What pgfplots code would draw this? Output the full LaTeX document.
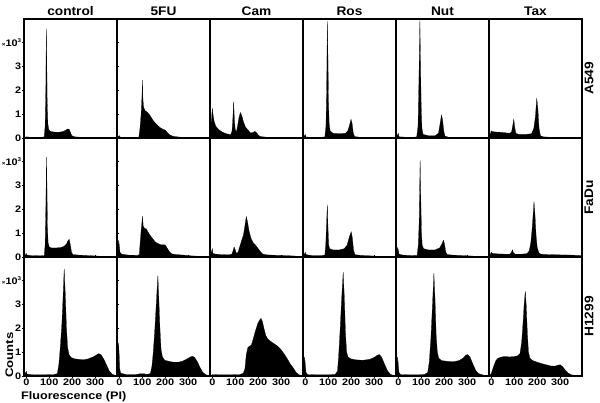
\documentclass[border=0pt]{standalone}
\usepackage{fontspec}
\setmainfont{Liberation Sans}
\newfontfamily\tickfont{Liberation Sans Bold}[FakeStretch=1.15]
\newfontfamily\labfont{Liberation Sans Bold}[FakeStretch=1.2]
\newfontfamily\titfont{Liberation Sans Bold}[FakeStretch=1.1]
\usepackage{pgfplots}
\pgfplotsset{compat=1.18}
\pgfplotsset{
  panel/.style={anchor=south west, scale only axis, width=93bp, height=119bp,
    xmin=-10, xmax=395, ymin=0, ymax=5, xtick=\empty, ytick=\empty,
    axis line style={line width=1.1bp}, clip=true,
    tick align=outside, major tick length=2bp,
    every tick/.style={line width=0.8bp, black},
    every tick label/.append style={font=\tickfont\fontsize{9.5}{10}\selectfont, inner sep=0.6bp}},
  leftcol/.style={ytick={0,1,2,3,4}, yticklabels={0,1,2,3,{{\fontsize{5.5}{6}\selectfont ×}10{\fontsize{5.5}{6}\selectfont\raisebox{3.8bp}{3}}}}},
  bottomrow/.style={xtick={0,100,200,300}, xticklabels={0,100,200,300}, xticklabel style={yshift=-0.5bp}},
  hist/.style={fill=black, draw=black, line width=0.2bp}
}
\begin{document}
\begin{tikzpicture}
\path[use as bounding box] (0,0) rectangle (600bp,403bp);
% ---------------- Row 1: A549 ----------------
\begin{axis}[panel, leftcol, at={(24bp,265bp)}]
\addplot[hist] coordinates {(-10,0)(0,0.05)(20,0.03)(60,0.02)(78,0.05)(82,0.5)(85,2)(87,4.6)(89,3.5)(91,1.5)(94,0.6)(98,0.35)(105,0.28)(120,0.25)(140,0.24)(160,0.27)(172,0.33)(180,0.38)(186,0.37)(192,0.25)(198,0.1)(210,0.05)(240,0.03)(280,0.02)(320,0.01)(395,0)} \closedcycle;
\end{axis}
\begin{axis}[panel, at={(117bp,265bp)}]
\addplot[hist] coordinates {(-10,0)(0,0.1)(5,0.03)(40,0.02)(85,0.03)(90,0.4)(95,1.0)(99,1.8)(101,2.44)(103,1.6)(106,1.3)(112,1.15)(120,1.1)(130,1.0)(140,0.85)(150,0.7)(160,0.6)(170,0.5)(180,0.42)(190,0.37)(200,0.33)(210,0.22)(220,0.13)(235,0.07)(260,0.04)(290,0.02)(330,0.01)(395,0)} \closedcycle;
\end{axis}
\begin{axis}[panel, at={(210bp,265bp)}]
\addplot[hist] coordinates {(-10,0)(0,1.25)(3,1.0)(8,0.7)(15,0.5)(25,0.38)(35,0.3)(50,0.22)(65,0.17)(80,0.14)(86,0.3)(90,0.9)(93,1.53)(96,0.8)(100,0.35)(105,0.25)(110,0.5)(116,0.85)(122,1.07)(128,0.95)(135,0.7)(145,0.45)(155,0.35)(165,0.22)(175,0.22)(185,0.28)(193,0.22)(200,0.12)(210,0.06)(230,0.04)(260,0.02)(300,0.01)(395,0)} \closedcycle;
\end{axis}
\begin{axis}[panel, at={(303bp,265bp)}]
\addplot[hist] coordinates {(-10,0)(0,0.15)(3,0.04)(40,0.03)(85,0.04)(90,0.5)(93,2)(96,4.9)(99,3.2)(101,1.5)(104,0.6)(108,0.3)(120,0.2)(150,0.18)(175,0.2)(185,0.3)(193,0.55)(199,0.79)(204,0.6)(209,0.2)(215,0.06)(240,0.03)(280,0.02)(320,0.01)(395,0)} \closedcycle;
\end{axis}
\begin{axis}[panel, at={(396bp,265bp)}]
\addplot[hist] coordinates {(-10,0)(0,0.2)(3,0.05)(40,0.03)(80,0.04)(86,0.5)(90,2.5)(94,4.95)(97,3)(100,1.2)(103,0.4)(108,0.15)(130,0.1)(160,0.1)(175,0.2)(182,0.6)(188,0.97)(193,0.75)(198,0.3)(203,0.08)(220,0.03)(260,0.02)(300,0.01)(395,0)} \closedcycle;
\end{axis}
\begin{axis}[panel, at={(489bp,265bp)}]
\addplot[hist] coordinates {(-10,0)(0,0.3)(5,0.27)(20,0.25)(40,0.24)(60,0.22)(80,0.2)(88,0.25)(93,0.5)(98,0.79)(102,0.45)(107,0.2)(120,0.15)(150,0.15)(175,0.18)(185,0.4)(192,0.9)(198,1.67)(203,1.2)(208,0.4)(214,0.1)(225,0.05)(260,0.03)(300,0.02)(340,0.01)(395,0)} \closedcycle;
\end{axis}
% ---------------- Row 2: FaDu ----------------
\begin{axis}[panel, leftcol, at={(24bp,146bp)}]
\addplot[hist] coordinates {(-10,0)(0,0.15)(3,0.08)(20,0.06)(60,0.05)(78,0.06)(82,0.5)(85,2)(88,4.2)(90,3)(92,1.3)(95,0.6)(100,0.42)(110,0.38)(130,0.38)(150,0.4)(165,0.45)(175,0.55)(182,0.7)(187,0.74)(192,0.5)(197,0.2)(203,0.1)(230,0.08)(270,0.06)(310,0.04)(350,0.02)(395,0)} \closedcycle;
\end{axis}
\begin{axis}[panel, at={(117bp,146bp)}]
\addplot[hist] coordinates {(-10,0)(-3,0.7)(0,0.5)(3,0.2)(10,0.12)(40,0.08)(80,0.07)(87,0.1)(90,0.5)(95,1.1)(99,1.5)(101,1.72)(104,1.3)(110,1.2)(118,1.18)(125,1.05)(135,0.9)(145,0.78)(155,0.65)(165,0.58)(180,0.52)(195,0.52)(202,0.48)(210,0.35)(220,0.2)(230,0.13)(250,0.1)(280,0.08)(310,0.05)(350,0.03)(395,0)} \closedcycle;
\end{axis}
\begin{axis}[panel, at={(210bp,146bp)}]
\addplot[hist] coordinates {(-10,0)(0,0.35)(3,0.15)(15,0.12)(40,0.1)(70,0.09)(85,0.12)(90,0.25)(95,0.42)(100,0.3)(105,0.15)(112,0.2)(120,0.45)(128,0.7)(135,0.9)(142,1.3)(148,1.7)(153,1.5)(160,1.1)(168,0.8)(178,0.6)(190,0.48)(200,0.35)(210,0.22)(220,0.12)(240,0.09)(280,0.07)(320,0.06)(360,0.04)(395,0)} \closedcycle;
\end{axis}
\begin{axis}[panel, at={(303bp,146bp)}]
\addplot[hist] coordinates {(-10,0)(0,0.2)(3,0.1)(30,0.06)(70,0.06)(85,0.08)(89,0.5)(93,1.5)(96,2.19)(99,1.2)(102,0.5)(106,0.35)(120,0.3)(150,0.3)(170,0.35)(182,0.5)(192,0.85)(200,1.06)(205,0.8)(210,0.3)(216,0.1)(240,0.07)(280,0.05)(320,0.03)(360,0.02)(395,0)} \closedcycle;
\end{axis}
\begin{axis}[panel, at={(396bp,146bp)}]
\addplot[hist] coordinates {(-10,0)(-3,0.4)(0,0.3)(3,0.12)(20,0.08)(60,0.06)(82,0.07)(87,0.5)(91,1.5)(95,4.07)(98,2.5)(101,1)(104,0.5)(110,0.35)(130,0.3)(160,0.3)(180,0.38)(190,0.55)(197,0.71)(202,0.5)(207,0.2)(214,0.1)(240,0.08)(280,0.06)(320,0.04)(360,0.02)(395,0)} \closedcycle;
\end{axis}
\begin{axis}[panel, at={(489bp,146bp)}]
\addplot[hist] coordinates {(-10,0)(0,0.2)(5,0.15)(30,0.13)(60,0.12)(80,0.12)(88,0.2)(92,0.31)(96,0.18)(105,0.12)(130,0.12)(155,0.14)(165,0.25)(172,0.6)(178,1.2)(183,1.9)(186,2.33)(190,1.8)(195,0.9)(200,0.4)(207,0.18)(215,0.12)(250,0.1)(300,0.09)(350,0.08)(390,0.06)(395,0)} \closedcycle;
\end{axis}
% ---------------- Row 3: H1299 ----------------
\begin{axis}[panel, leftcol, bottomrow, at={(24bp,27bp)}]
\addplot[hist] coordinates {(-10,0)(0,0.2)(3,0.08)(30,0.05)(80,0.05)(120,0.06)(135,0.1)(142,0.5)(148,1.2)(155,2.2)(160,3.3)(165,4.5)(170,3.4)(175,2.0)(180,1.2)(186,0.9)(195,0.78)(210,0.72)(230,0.7)(250,0.68)(270,0.72)(290,0.8)(305,0.88)(315,0.94)(325,0.9)(338,0.7)(350,0.45)(362,0.2)(375,0.07)(390,0.02)(395,0)} \closedcycle;
\end{axis}
\begin{axis}[panel, bottomrow, at={(117bp,27bp)}]
\addplot[hist] coordinates {(-10,0)(-4,1.4)(-1,1.0)(2,0.3)(6,0.12)(30,0.06)(70,0.06)(95,0.1)(105,0.1)(120,0.07)(135,0.1)(142,0.4)(148,1.0)(155,2.0)(162,3.2)(168,4.22)(172,3.3)(177,2.0)(182,1.1)(188,0.8)(198,0.66)(215,0.62)(235,0.58)(255,0.58)(275,0.62)(295,0.72)(310,0.8)(318,0.83)(328,0.78)(340,0.6)(352,0.35)(364,0.15)(378,0.05)(395,0)} \closedcycle;
\end{axis}
\begin{axis}[panel, bottomrow, at={(210bp,27bp)}]
\addplot[hist] coordinates {(-10,0)(0,0.06)(30,0.05)(80,0.05)(120,0.06)(135,0.12)(142,0.3)(148,0.9)(155,1.2)(162,1.25)(170,1.3)(178,1.55)(188,1.9)(198,2.2)(206,2.35)(212,2.42)(218,2.3)(225,2.0)(233,1.7)(242,1.55)(255,1.45)(270,1.35)(285,1.25)(300,1.1)(315,0.9)(328,0.7)(340,0.5)(352,0.35)(365,0.15)(378,0.05)(395,0)} \closedcycle;
\end{axis}
\begin{axis}[panel, bottomrow, at={(303bp,27bp)}]
\addplot[hist] coordinates {(-10,0)(-3,0.8)(0,0.5)(3,0.15)(10,0.06)(50,0.05)(100,0.05)(130,0.07)(140,0.2)(145,0.8)(152,2.0)(158,3.2)(165,4.36)(170,3.3)(175,1.8)(180,1.0)(186,0.8)(198,0.72)(220,0.68)(250,0.66)(280,0.7)(300,0.78)(315,0.88)(322,0.9)(332,0.8)(345,0.5)(358,0.22)(370,0.08)(385,0.02)(395,0)} \closedcycle;
\end{axis}
\begin{axis}[panel, bottomrow, at={(396bp,27bp)}]
\addplot[hist] coordinates {(-10,0)(-3,0.8)(0,0.5)(3,0.15)(10,0.06)(50,0.05)(90,0.05)(115,0.07)(128,0.15)(135,0.6)(142,1.6)(148,2.8)(155,4.32)(160,3.2)(165,1.7)(170,1.0)(176,0.75)(188,0.65)(210,0.62)(240,0.6)(265,0.65)(282,0.75)(295,0.88)(302,0.9)(312,0.8)(325,0.5)(338,0.22)(350,0.1)(370,0.04)(395,0)} \closedcycle;
\end{axis}
\begin{axis}[panel, bottomrow, at={(489bp,27bp)}]
\addplot[hist] coordinates {(-10,0)(0,0.1)(5,0.25)(12,0.45)(20,0.65)(30,0.75)(45,0.8)(60,0.82)(80,0.8)(100,0.82)(115,0.85)(125,0.95)(132,1.4)(138,2.2)(143,3.0)(148,3.56)(152,3.0)(157,1.8)(162,1.0)(168,0.75)(180,0.65)(200,0.58)(220,0.52)(240,0.47)(260,0.42)(280,0.42)(292,0.46)(300,0.47)(310,0.4)(322,0.25)(335,0.12)(348,0.05)(370,0.02)(395,0)} \closedcycle;
\end{axis}
% ---------------- Titles and labels ----------------
\begin{scope}[every node/.style={font=\titfont\fontsize{12.5}{14}\selectfont, inner sep=0pt}]
\node[anchor=base] at (70.5bp,387.5bp) {control};
\node[anchor=base] at (163.5bp,387.5bp) {5FU};
\node[anchor=base] at (256.5bp,387.5bp) {Cam};
\node[anchor=base] at (349.5bp,387.5bp) {Ros};
\node[anchor=base] at (442.5bp,387.5bp) {Nut};
\node[anchor=base] at (535.5bp,387.5bp) {Tax};
\node[rotate=90] at (589bp,324.5bp) {A549};
\node[rotate=90] at (589bp,205.5bp) {FaDu};
\node[rotate=90] at (589bp,86.5bp) {H1299};
\end{scope}
\node[font=\labfont\fontsize{11}{12}\selectfont, inner sep=0pt, rotate=90, anchor=base west] at (13bp,25bp) {Counts};
\node[font=\tickfont\fontsize{11}{12}\selectfont, inner sep=0pt, anchor=base west] at (21bp,4bp) {Fluorescence (PI)};
\end{tikzpicture}
\end{document}
